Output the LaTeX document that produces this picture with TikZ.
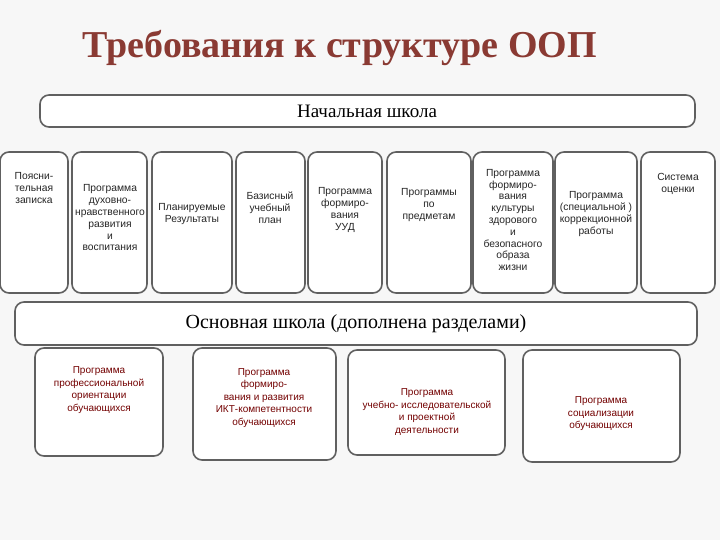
\documentclass[tikz,border=0pt]{standalone}
\usepackage{fontspec}
\setmainfont{Liberation Sans}
\newfontfamily\serifru{Liberation Serif}
\begin{document}
\begin{tikzpicture}[x=1pt,y=-1pt,
  bx/.style={draw=gray!75!black,line width=1.6pt,rounded corners=9pt,fill=white},
  tx/.style={align=center,font=\fontsize{10.3}{11.8}\selectfont,text=black!85},
  rt/.style={align=center,font=\fontsize{10}{12.5}\selectfont,text=red!45!black}]
\fill[gray!6] (0,0) rectangle (720,540);
\useasboundingbox (0,0) rectangle (720,540);
\node (title) at (340,48) {\serifru\bfseries\fontsize{38}{42}\selectfont\color[HTML]{8A3A33}Требования к структуре ООП};
\draw[bx] (40,95) rectangle (695,127);
\node[font=\serifru\fontsize{19}{22}\selectfont] (nach) at (367,111) {Начальная школа};
\foreach \a/\b/\n in {0/68/b1,72/147/b2,152/232/b3,236/305/b4,308/382/b5,387/471/b6,473/553/b7,555/637/b8,641/715/b9}
  \draw[bx] (\a,152) rectangle (\b,293) coordinate (\n);
\node[tx] (t1) at (34,188) {Поясни-\\тельная\\записка};
\node[tx] (t2) at (110,218) {Программа\\духовно-\\нравственного\\развития\\и\\воспитания};
\node[tx] (t3) at (192,214) {Планируемые\\Результаты};
\node[tx] (t4) at (270,208) {Базисный\\учебный\\план};
\node[tx] (t5) at (345,210) {Программа\\формиро-\\вания\\УУД};
\node[tx] (t6) at (429,205) {Программы\\по\\предметам};
\node[tx] (t7) at (513,220) {Программа\\формиро-\\вания\\культуры\\здорового\\и\\безопасного\\образа\\жизни};
\node[tx] (t8) at (596,214) {Программа\\(специальной )\\коррекционной\\работы};
\node[tx] (t9) at (678,184) {Система\\оценки};
\draw[bx] (15,302) rectangle (697,345);
\node[font=\serifru\fontsize{20}{24}\selectfont] (osn) at (356,324) {Основная школа (дополнена разделами)};
\draw[bx] (35,348) rectangle (163,456);
\draw[bx] (193,348) rectangle (336,460);
\draw[bx] (348,350) rectangle (505,455);
\draw[bx] (523,350) rectangle (680,462);
\node[rt] (r1) at (99,390) {Программа\\профессиональной\\ориентации\\обучающихся};
\node[rt] (r2) at (264,398) {Программа\\формиро-\\вания и развития\\ИКТ-компетентности\\обучающихся};
\node[rt] (r3) at (427,412) {Программа\\учебно- исследовательской\\и проектной\\деятельности};
\node[rt] (r4) at (601,414) {Программа\\социализации\\обучающихся};
\end{tikzpicture}
\end{document}
